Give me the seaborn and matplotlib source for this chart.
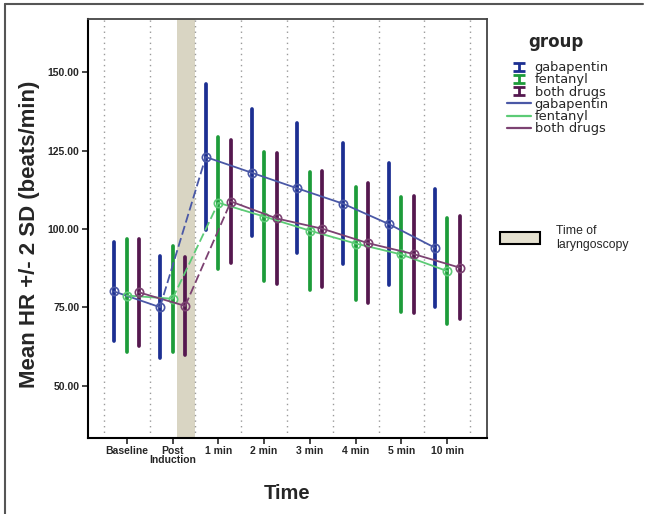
import numpy as np
import pandas as pd
import matplotlib
matplotlib.use("Agg")
import matplotlib.pyplot as plt
from matplotlib.lines import Line2D
from matplotlib.patches import Patch
from matplotlib.path import Path
import seaborn as sns

# values (mean HR and 2*SD half-width)
times = ["Baseline", "Post\nInduction", "1 min", "2 min", "3 min", "4 min", "5 min", "10 min"]
groups = ["gabapentin", "fentanyl", "both drugs"]
gabapentin_mean = [80.1, 75.1, 123.0, 118.0, 113.0, 108.1, 101.6, 94.1]
gabapentin_2sd = [15.8, 16.2, 23.3, 20.2, 20.7, 19.3, 19.4, 18.8]
fentanyl_mean = [78.8, 77.8, 108.4, 104.0, 99.5, 95.4, 91.9, 86.6]
fentanyl_2sd = [18.0, 16.9, 21.0, 20.5, 18.8, 17.9, 18.2, 16.8]
both_mean = [79.8, 75.5, 108.8, 103.4, 100.1, 95.5, 92.0, 87.7]
both_2sd = [17.0, 15.5, 19.5, 20.8, 18.5, 19.1, 18.7, 16.4]
laryngoscopy_span = (1.09, 1.5)

bar_colors = ["#1c2f92", "#1d9c3a", "#55184f"]
line_colors = ["#4a58a6", "#5ccb76", "#7c4272"]

means = {"gabapentin": gabapentin_mean, "fentanyl": fentanyl_mean, "both drugs": both_mean}
sds = {"gabapentin": gabapentin_2sd, "fentanyl": fentanyl_2sd, "both drugs": both_2sd}

# long table: lower and upper end per point, mean row for the lines
rows = []
for g in groups:
    for t, m, h in zip(times, means[g], sds[g]):
        rows.append({"time": t, "group": g, "hr": m - h, "kind": "range"})
        rows.append({"time": t, "group": g, "hr": m + h, "kind": "range"})
        rows.append({"time": t, "group": g, "hr": m, "kind": "mean"})
df = pd.DataFrame(rows)
rng = df[df["kind"] == "range"]
mn = df[df["kind"] == "mean"]

sns.set_style("white")
plt.rcParams["font.family"] = ["Liberation Sans", "DejaVu Sans"]

fig = plt.figure(figsize=(6.46, 5.14), dpi=100)
ax = fig.add_axes([0.136, 0.148, 0.618, 0.815])

DODGE = 0.55

# shaded laryngoscopy period and dotted separators
ax.axvspan(*laryngoscopy_span, color="#d9d5c3", zorder=0, lw=0)
for b in np.arange(-0.5, len(times), 1.0):
    ax.axvline(b, color="#9a9a9a", ls=(0, (1, 3)), lw=1.0, zorder=0.5)

# error bars (min..max of lower/upper rows = mean +/- 2 SD)
sns.pointplot(data=rng, x="time", y="hr", hue="group", order=times, hue_order=groups,
              palette=bar_colors, dodge=DODGE, errorbar=("pi", 100), estimator="mean",
              linestyle="none", marker="", err_kws={"linewidth": 2.7}, legend=False, ax=ax)

n_before = len(ax.lines)
# mean lines: before, across and after laryngoscopy
seg_pre = mn[mn["time"].isin(times[:2])]
seg_bridge = mn[mn["time"].isin(times[1:3])]
seg_post = mn[mn["time"].isin(times[2:])]
for seg, ls, mk in [(seg_pre, "-", "o"), (seg_post, "-", "o"), (seg_bridge, (0, (5, 2)), "")]:
    sns.pointplot(data=seg, x="time", y="hr", hue="group", order=times, hue_order=groups,
                  palette=line_colors, dodge=DODGE, errorbar=None, linestyle=ls, marker=mk,
                  markersize=6, markeredgewidth=1.2, linewidth=1.3, legend=False, ax=ax)
for ln in ax.lines[n_before:]:
    ln.set_markerfacecolor("none")
    ln.set_zorder(3)

ax.set_xlim(-0.85, 7.87)
ax.set_ylim(33.4, 167)
ax.set_yticks([50, 75, 100, 125, 150])
ax.set_yticklabels([f"{v:.2f}" for v in [50, 75, 100, 125, 150]])
ax.tick_params(axis="both", which="both", direction="out", length=4, width=1.2,
               labelsize=7.5, left=True, bottom=True, pad=2)
for lab in ax.get_xticklabels() + ax.get_yticklabels():
    lab.set_fontweight("bold")
    lab.set_linespacing(0.9)
ax.set_xlabel("Time", fontsize=14.5, fontweight="bold", labelpad=13)
ax.set_ylabel("Mean HR +/- 2 SD (beats/min)", fontsize=16, fontweight="bold")
ax.yaxis.set_label_coords(-0.12, 0.487)
for s in ["left", "bottom"]:
    ax.spines[s].set_color("black")
    ax.spines[s].set_linewidth(1.5)
for s in ["top", "right"]:
    ax.spines[s].set_color("#444444")
    ax.spines[s].set_linewidth(1.3)

# legends
ibeam = Path([(-1, -0.8), (1, -0.8), (0, -0.8), (0, 0.8), (-1, 0.8), (1, 0.8)],
             [Path.MOVETO, Path.LINETO, Path.MOVETO, Path.LINETO, Path.MOVETO, Path.LINETO])
handles = [Line2D([0], [0], marker=ibeam, color=c, linestyle="none", markersize=8,
                  markeredgewidth=2.0, markerfacecolor="none") for c in bar_colors]
handles += [Line2D([0], [0], color=c, lw=1.6) for c in line_colors]
fig.text(0.817, 0.918, "group", fontsize=12, fontweight="bold", family="DejaVu Sans",
         ha="left", va="center")
leg = fig.legend(handles, groups + groups, loc="upper left",
                 bbox_to_anchor=(0.776, 0.891), frameon=False,
                 prop={"family": "DejaVu Sans", "size": 9.4},
                 handlelength=1.9, handletextpad=0.25, labelspacing=-0.06, borderaxespad=0)

leg2 = fig.legend([Patch(facecolor="#e4e0cf", edgecolor="black", lw=1.5)], ["Time of\nlaryngoscopy"],
                  loc="upper left", bbox_to_anchor=(0.766, 0.572), frameon=False, fontsize=8.8,
                  handlelength=3.3, handleheight=1.2, handletextpad=1.3, borderaxespad=0)

# outer frame (left and top only)
fig.add_artist(Line2D([0.008, 0.008], [0.0, 0.992], color="#555555", lw=1.5))
fig.add_artist(Line2D([0.008, 0.995], [0.992, 0.992], color="#555555", lw=1.5))

fig.savefig("out.png", dpi=100)
